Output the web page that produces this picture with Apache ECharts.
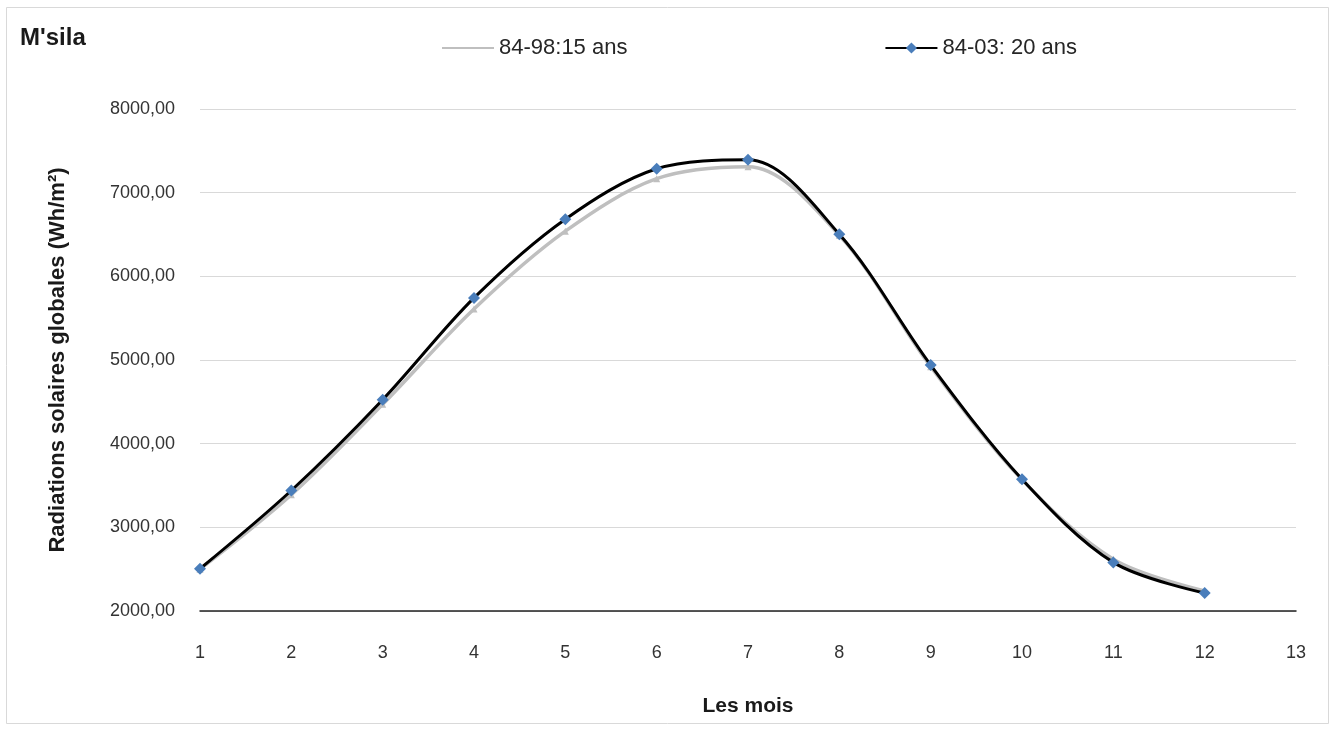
<!DOCTYPE html>
<html>
<head>
<meta charset="utf-8">
<script src="https://cdn.jsdelivr.net/npm/echarts@6/dist/echarts.min.js"></script>
<style>html,body{margin:0;padding:0;background:#fff}#c{width:1335px;height:733px}</style>
</head>
<body>
<div id="c"></div>
<script>
const months = [1,2,3,4,5,6,7,8,9,10,11,12];
const serie15 = [2500,3390,4470,5610,6540,7167,7310,6490,4920,3570,2620,2240];
const serie20 = [2505,3440,4525,5742,6683,7286,7393,6503,4940,3575,2581,2215];
const name15 = '84-98:15 ans';
const name20 = '84-03: 20 ans';
const yTicks = [2000,3000,4000,5000,6000,7000,8000];

const pair = (xs, ys) => xs.map((x,i)=>[x, ys[i]]);
const font = 'Liberation Sans, Arial, sans-serif';
const SM = 0.33;

const chart = echarts.init(document.getElementById('c'), null, {renderer:'canvas'});
chart.setOption({
  animation:false,
  backgroundColor:'#fff',
  graphic:[{type:'rect',shape:{x:6.5,y:7.5,width:1322,height:716},style:{fill:'none',stroke:'#d9d9d9',lineWidth:1}}],
  title:{text:"M'sila",left:15,top:21,textStyle:{fontFamily:font,fontSize:24,fontWeight:'bold',color:'#1a1a1a'}},
  legend:{
    data:[{name:name15,itemStyle:{opacity:0}},name20],left:436,top:32,itemWidth:52,itemHeight:14,itemGap:257,
    textStyle:{fontFamily:font,fontSize:22,color:'#262626'}
  },
  grid:{left:200,right:39,top:109,bottom:122,containLabel:false},
  xAxis:{
    type:'value',min:1,max:13,interval:1,
    name:'Les mois',nameLocation:'middle',nameGap:85,
    nameTextStyle:{fontFamily:font,fontSize:21,fontWeight:'bold',color:'#1a1a1a'},
    axisLine:{show:true,lineStyle:{color:'#222',width:1.5}},
    axisTick:{show:false},
    splitLine:{show:false},
    axisLabel:{fontFamily:font,fontSize:18,color:'#333',margin:33}
  },
  yAxis:{
    type:'value',min:yTicks[0],max:yTicks[yTicks.length-1],interval:1000,
    name:'Radiations solaires globales (Wh/m²)',nameLocation:'middle',nameGap:131,
    nameTextStyle:{fontFamily:font,fontSize:22,fontWeight:'bold',color:'#1a1a1a'},
    axisLine:{show:false},axisTick:{show:false},
    splitLine:{lineStyle:{color:'#d9d9d9',width:1}},
    axisLabel:{fontFamily:font,fontSize:18,color:'#333',margin:25,
      formatter:v=>v.toFixed(2).replace('.',',')}
  },
  series:[
    {name:name15,type:'line',data:pair(months,serie15),smooth:SM,symbol:'none',
     lineStyle:{color:'#bfbfbf',width:3.5},itemStyle:{color:'#bfbfbf'},z:2},
    {name:'marks15',type:'line',data:pair(months,serie15),smooth:SM,symbol:'triangle',symbolSize:7,
     showSymbol:true,lineStyle:{opacity:0,width:0},itemStyle:{color:'#bfbfbf'},z:3},
    {name:name20,type:'line',data:pair(months,serie20),smooth:SM,symbol:'diamond',symbolSize:12,
     showSymbol:true,lineStyle:{color:'#000',width:3},itemStyle:{color:'#4a7ebb',borderWidth:0},z:4}
  ]
});
</script>
</body>
</html>
